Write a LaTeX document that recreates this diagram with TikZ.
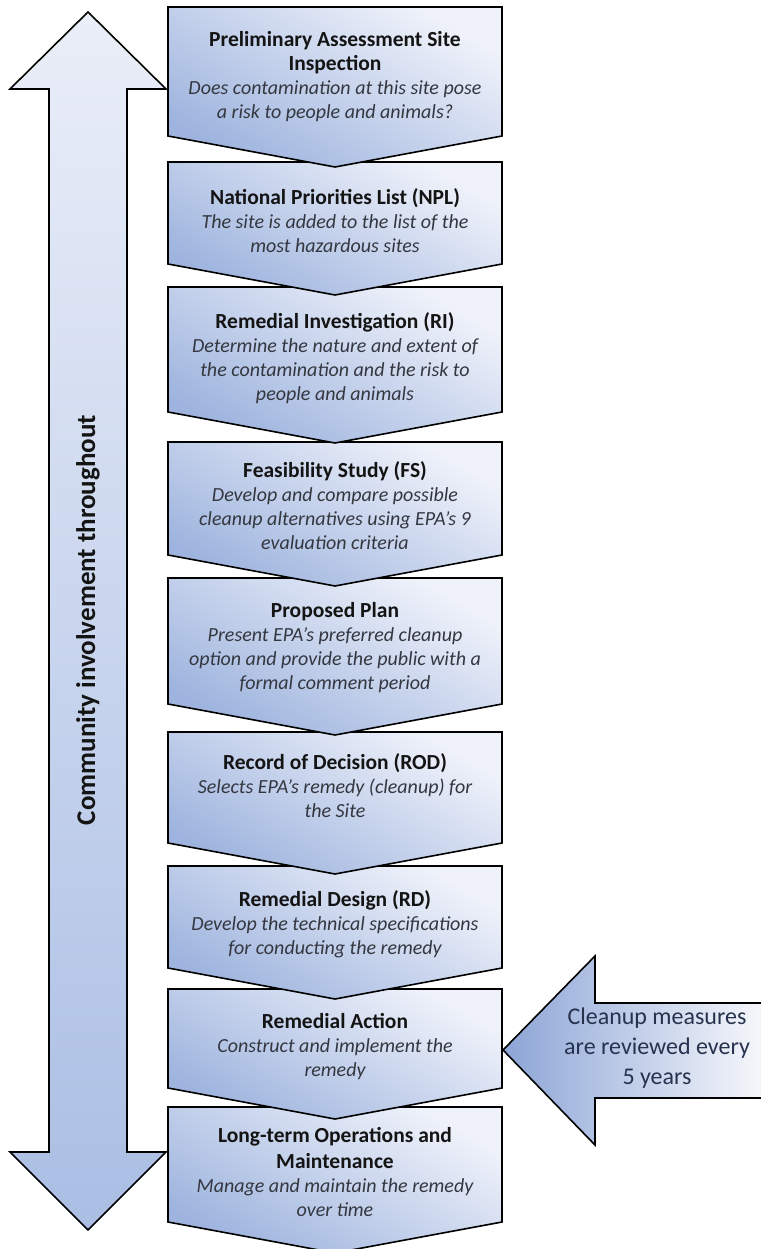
\documentclass[tikz,border=0pt]{standalone}
\usepackage{fontspec}
\setmainfont{Carlito}
\definecolor{stepTop}{RGB}{239,242,250}
\definecolor{stepBot}{RGB}{158,180,222}
\definecolor{barTop}{RGB}{234,238,248}
\definecolor{barBot}{RGB}{170,190,228}
\definecolor{noteLeft}{RGB}{140,165,214}
\definecolor{noteRight}{RGB}{246,247,251}
\definecolor{titleInk}{RGB}{20,20,20}
\definecolor{descInk}{RGB}{52,55,64}
\definecolor{noteInk}{RGB}{38,50,78}
\newcommand{\steptitle}[1]{{\fontsize{21.5}{24}\selectfont\bfseries\color{titleInk}#1}}
\newcommand{\stepdesc}[1]{{\fontsize{20}{24}\selectfont\itshape\color{descInk}#1}}
\newcommand{\stepshape}[2]{%
  \draw[stepfill] (168,#1) -- (502,#1) -- (502,#2) -- (335,{#2+31}) -- (168,#2) -- cycle;}

\begin{document}
\begin{tikzpicture}[x=1pt,y=-1pt,
  stepfill/.style={line width=1.6pt, line join=miter, top color=stepTop, bottom color=stepBot, shading angle=-30},
  steplabel/.style={align=center, inner sep=0pt, font=\fontsize{20}{24}\selectfont}]
	\useasboundingbox (0,0) rectangle (760,1249);

	\draw[line width=1.6pt, top color=barTop, bottom color=barBot]
		(88,12) -- (166,89) -- (127,89) -- (127,1152) -- (166,1152) -- (88,1230)
		-- (10,1152) -- (49,1152) -- (49,89) -- (10,89) -- cycle;
	\node[rotate=90, font=\fontsize{27}{33}\selectfont\bfseries, text=titleInk] (community) at (88,620) {Community involvement throughout};

	\stepshape{1107}{1222}
	\stepshape{989}{1088}
	\stepshape{866}{968}
	\stepshape{732}{843}
	\stepshape{578}{704}
	\stepshape{442}{555}
	\stepshape{287}{412}
	\stepshape{162}{264}
	\stepshape{7}{136}

	\node[steplabel] (pa) at (335,77) {\steptitle{Preliminary Assessment Site}\\\steptitle{Inspection}\\\stepdesc{Does contamination at this site pose}\\\stepdesc{a risk to people and animals?}};
	\node[steplabel] (npl) at (335,221) {\steptitle{National Priorities List (NPL)}\\\stepdesc{The site is added to the list of the}\\\stepdesc{most hazardous sites}};
	\node[steplabel] (ri) at (335,358) {\steptitle{Remedial Investigation (RI)}\\\stepdesc{Determine the nature and extent of}\\\stepdesc{the contamination and the risk to}\\\stepdesc{people and animals}};
	\node[steplabel] (fs) at (335,506) {\steptitle{Feasibility Study (FS)}\\\stepdesc{Develop and compare possible}\\\stepdesc{cleanup alternatives using EPA’s 9}\\\stepdesc{evaluation criteria}};
	\node[steplabel] (pp) at (335,648) {\steptitle{Proposed Plan}\\\stepdesc{Present EPA’s preferred cleanup}\\\stepdesc{option and provide the public with a}\\\stepdesc{formal comment period}};
	\node[steplabel] (rod) at (335,786) {\steptitle{Record of Decision (ROD)}\\\stepdesc{Selects EPA’s remedy (cleanup) for}\\\stepdesc{the Site}};
	\node[steplabel] (rd) at (335,924) {\steptitle{Remedial Design (RD)}\\\stepdesc{Develop the technical specifications}\\\stepdesc{for conducting the remedy}};
	\node[steplabel] (ra) at (335,1047) {\steptitle{Remedial Action}\\\stepdesc{Construct and implement the}\\\stepdesc{remedy}};
	\node[steplabel] (om) at (335,1172) {\steptitle{Long-term Operations and}\\[2pt]\steptitle{Maintenance}\\\stepdesc{Manage and maintain the remedy}\\\stepdesc{over time}};

	\shade[left color=noteLeft, right color=noteRight]
		(762,1003) -- (595,1003) -- (595,956) -- (503,1050) -- (595,1145) -- (595,1098) -- (762,1098) -- cycle;
	\draw[line width=1.6pt, line join=miter]
		(762,1003) -- (595,1003) -- (595,956) -- (503,1050) -- (595,1145) -- (595,1098) -- (762,1098);
	\node[align=center, font=\fontsize{24}{30}\selectfont, text=noteInk] (review) at (657,1048) {Cleanup measures\\are reviewed every\\5 years};
\end{tikzpicture}
\end{document}
